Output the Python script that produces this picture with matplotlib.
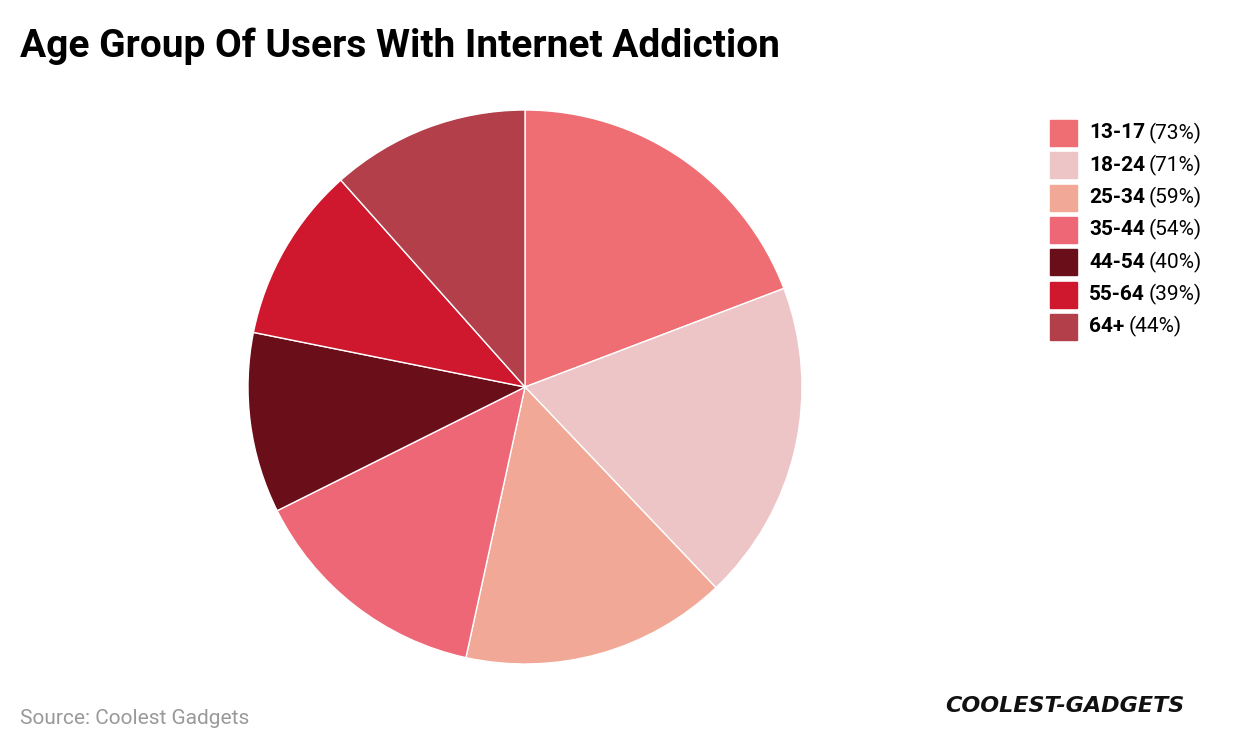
import matplotlib
matplotlib.use("Agg")
import matplotlib.pyplot as plt
from matplotlib.patches import Rectangle

labels = ["13-17", "18-24", "25-34", "35-44", "44-54", "55-64", "64+"]
values = [73, 71, 59, 54, 40, 39, 44]
colors = ["#EE6E73", "#EDC5C7", "#F2A896", "#EE6777", "#6A0E1A", "#CF182E", "#B23F4A"]

W, H = 1240, 752
fig = plt.figure(figsize=(W/100, H/100), dpi=100)
cx, cy, r = 525, 387, 277
ax = fig.add_axes([(cx-r)/W, 1-(cy+r)/H, 2*r/W, 2*r/H])
ax.pie(values, colors=colors, startangle=90, counterclock=False,
       wedgeprops=dict(edgecolor="white", linewidth=1))
ax.set_xlim(-1, 1)
ax.set_ylim(-1, 1)
ax.set_aspect("auto")

fig.text(20/W, 1-46/H, "Age Group Of Users With Internet Addiction", fontsize=28,
         fontweight="bold", family="Roboto", va="center", ha="left")
fig.text(20/W, 1-718/H, "Source: Coolest Gadgets", fontsize=15, color="#999999",
         family="Roboto", va="center")
fig.text(1065/W, 1-706/H, "COOLEST-GADGETS", fontsize=16, fontweight="heavy",
         style="italic", family="DejaVu Sans", va="center", ha="center", color="#111111")

fig.canvas.draw()
rend = fig.canvas.get_renderer()
for i, (lab, v, c) in enumerate(zip(labels, values, colors)):
    y = 133 + i*32.3
    fig.patches.append(Rectangle((1050/W, 1-(y+13)/H), 27/W, 26/H,
                                 transform=fig.transFigure, color=c))
    t = fig.text(1089/W, 1-y/H, lab, fontsize=15, fontweight="bold", family="Roboto",
                 va="center", ha="left")
    bb = t.get_window_extent(rend)
    fig.text(bb.x1/W + 4/W, 1-y/H, f"({v}%)", fontsize=15, family="Roboto",
             va="center", ha="left")

fig.savefig("out.png", dpi=100)
